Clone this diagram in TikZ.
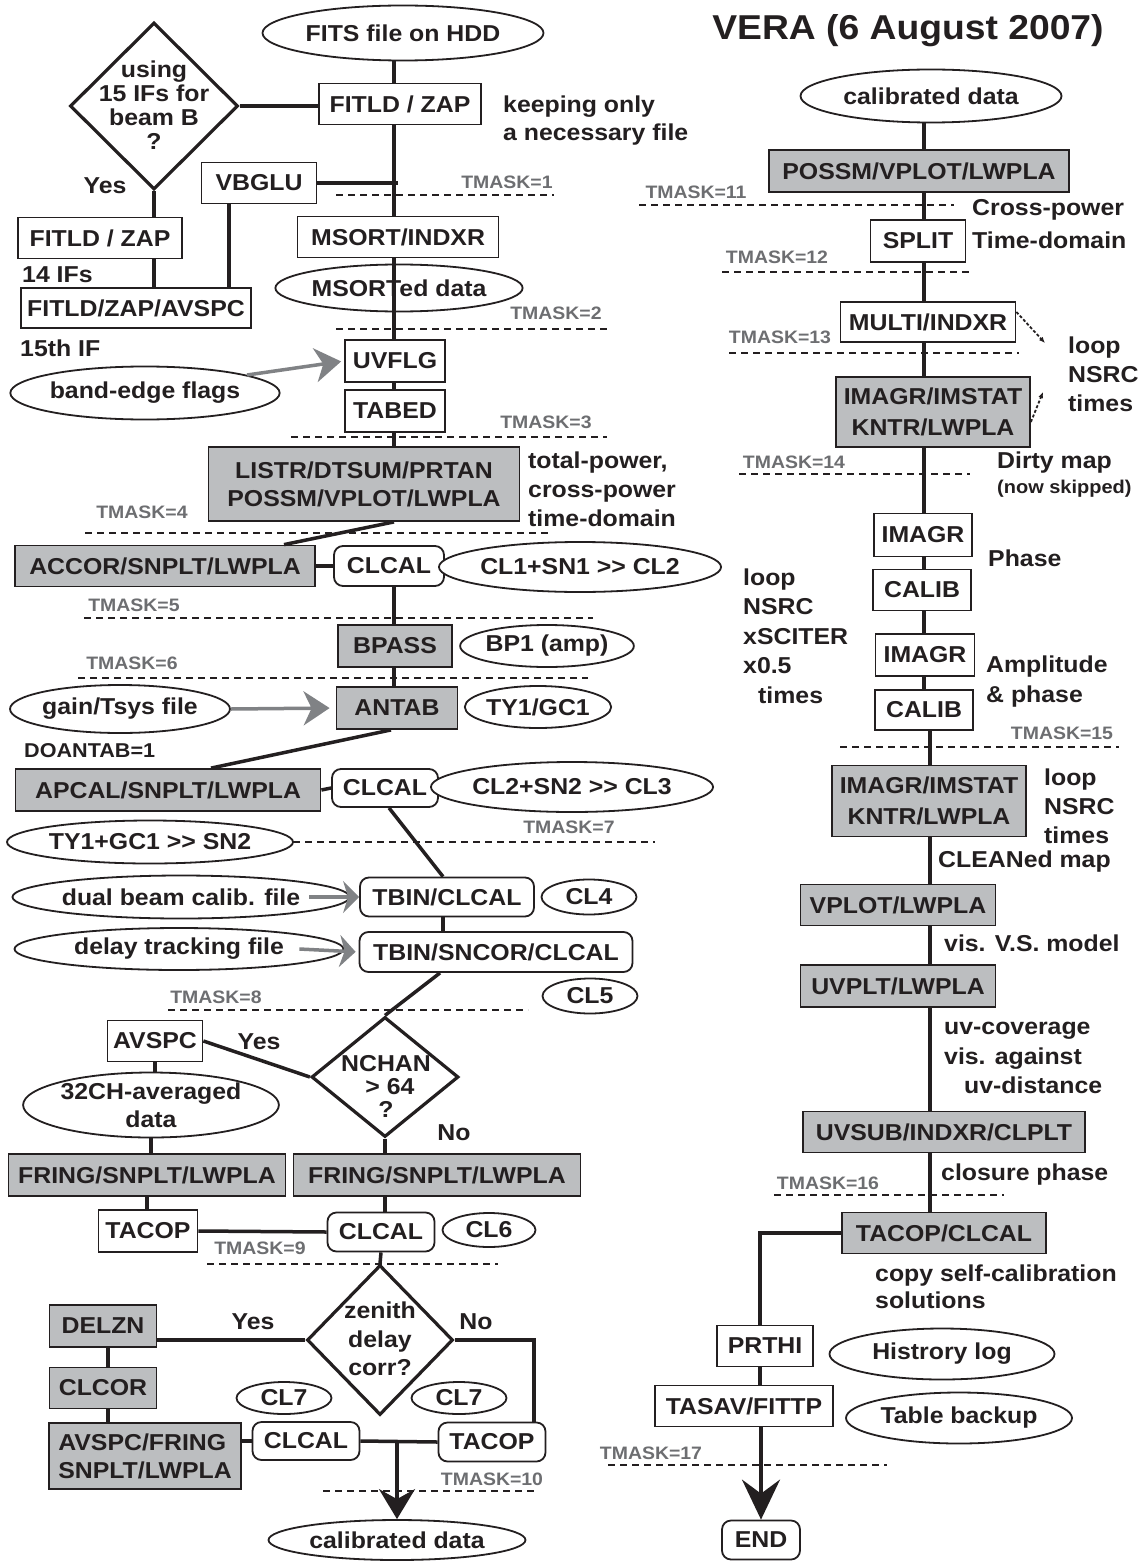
\documentclass[tikz,border=0pt]{standalone}
\usepackage{fontspec}
\setmainfont{Liberation Sans}[FakeStretch=1.08]
\usetikzlibrary{shapes.geometric,arrows.meta}
\definecolor{ink}{HTML}{231F20}
\definecolor{boxgray}{HTML}{BCBEC0}
\definecolor{tmgray}{HTML}{6D6E71}
\definecolor{argray}{HTML}{808285}
\newcommand\fmain{\fontsize{23}{28}\selectfont\bfseries}
\newcommand\fdiam{\fontsize{23}{24}\selectfont\bfseries}
\newcommand\ftm{\fontsize{18}{20}\selectfont\bfseries}
\newcommand\fsmall{\fontsize{18.5}{20}\selectfont\bfseries}
\newcommand\fdoantab{\fontsize{20}{22}\selectfont\bfseries}
\newcommand\ftitle{\fontsize{34.5}{38}\selectfont\bfseries}
\newcommand\dblgt{{>}{>}}
\begin{document}
\begin{tikzpicture}[x=1pt,y=-1pt,
  every node/.style={text=ink, font=\fmain},
  box/.style={draw=ink, line width=1.8, fill=white, inner sep=0, align=center},
  gbox/.style={box, fill=boxgray},
  rbox/.style={box, rounded corners=9},
  oval/.style={ellipse, draw=ink, line width=1.8, fill=white, inner sep=0, align=center},
  diam/.style={diamond, draw=ink, line width=3.2, fill=white, inner sep=0},
  conn/.style={draw=ink, line width=3.5},
  tmline/.style={draw=ink, line width=1.4, dash pattern=on 7pt off 5pt},
  tmtext/.style={text=tmgray, font=\ftm},
  note/.style={anchor=west, align=left, inner sep=0},
  garrow/.style={draw=argray, line width=3.5, -{Stealth[length=26pt, width=34pt, inset=8pt]}},
  garrowb/.style={draw=argray, line width=3.5, -{Stealth[length=16pt, width=32pt, inset=5pt]}},
  barrow/.style={conn, -{Stealth[length=30pt, width=36pt, inset=10pt]}},
  barrowb/.style={conn, -{Stealth[length=40pt, width=38pt, inset=14pt]}},
  darrow/.style={draw=ink, line width=1.8, dash pattern=on 3pt off 2pt, -{Latex[length=6pt, width=5pt]}},
]
\useasboundingbox (0,0) rectangle (1138,1562);
\fill[white] (0,0) rectangle (1138,1562);

% ---------------- left column: nodes ----------------
\node[oval, minimum width=281, minimum height=55] (fits) at (403,33) {FITS file on HDD};
\node[box, minimum width=162, minimum height=41] (fitld) at (400,104) {FITLD / ZAP};
\node[diam, minimum width=168, minimum height=167] (dq1) at (154,106) {};
\node[align=center, font=\fdiam, inner sep=0] (dq1t) at (154,105) {using\\15 IFs for\\beam B\\?};
\node[box, minimum width=115, minimum height=41] (vbglu) at (259,183) {VBGLU};
\node[box, minimum width=201, minimum height=41] (msort) at (398,237) {MSORT/INDXR};
\node[box, minimum width=164, minimum height=41] (fitldL) at (100,238) {FITLD / ZAP};
\node[box, minimum width=230, minimum height=40] (avspc0) at (136,308) {FITLD/ZAP/AVSPC};
\node[oval, minimum width=238, minimum height=47] (msorted) at (399,288) {MSORTed data};
\node[box, minimum width=100, minimum height=42] (uvflg) at (395,361) {UVFLG};
\node[oval, minimum width=255, minimum height=53] (band) at (145,393) {band-edge flags};
\node[box, minimum width=100, minimum height=42] (tabed) at (395,411) {TABED};
\node[gbox, minimum width=311, minimum height=74] (listr) at (364,484) {LISTR/DTSUM/PRTAN\\POSSM/VPLOT/LWPLA};
\node[gbox, minimum width=300, minimum height=41] (accor) at (165,566) {ACCOR/SNPLT/LWPLA};
\node[rbox, minimum width=110, minimum height=40] (clcal1) at (389,566) {CLCAL};
\node[oval, minimum width=256, minimum height=50] (cl1) at (580,567) {CL1+SN1 \dblgt{} CL2};
\node[gbox, minimum width=114, minimum height=42] (bpass) at (395,646) {BPASS};
\node[oval, minimum width=171, minimum height=42] (bp1) at (547,646) {BP1 (amp)};
\node[gbox, minimum width=121, minimum height=42] (antab) at (397,708) {ANTAB};
\node[oval, minimum width=138, minimum height=42] (ty1) at (538,707) {TY1/GC1};
\node[oval, minimum width=211, minimum height=48] (gain) at (120,709) {gain/Tsys file};
\node[gbox, minimum width=305, minimum height=42] (apcal) at (168,790) {APCAL/SNPLT/LWPLA};
\node[rbox, minimum width=106, minimum height=38] (clcal2) at (385,788) {CLCAL};
\node[oval, minimum width=259, minimum height=50] (cl2) at (572,787) {CL2+SN2 \dblgt{} CL3};
\node[oval, minimum width=255, minimum height=43] (tygc) at (150,842) {TY1+GC1 \dblgt{} SN2};
\node[oval, minimum width=329, minimum height=43] (dual) at (181,897) {dual beam calib. file};
\node[rbox, minimum width=174, minimum height=39] (tbin1) at (447,897) {TBIN/CLCAL};
\node[oval, minimum width=95, minimum height=35] (cl4) at (589,897) {CL4};
\node[oval, minimum width=329, minimum height=42] (delay) at (179,949) {delay tracking file};
\node[rbox, minimum width=273, minimum height=40] (tbin2) at (496,952) {TBIN/SNCOR/CLCAL};
\node[oval, minimum width=95, minimum height=35] (cl5) at (590,996) {CL5};
\node[box, minimum width=95, minimum height=41] (avspc1) at (155,1041) {AVSPC};
\node[diam, minimum width=147, minimum height=120] (nchan) at (385,1077) {};
\node[align=center, inner sep=0, font=\fontsize{23}{23}\selectfont\bfseries] (nchant) at (386,1086) {NCHAN\\\hspace*{8pt}> 64\\?};
\node[oval, minimum width=244, minimum height=65] (avg32) at (151,1105) {32CH-averaged\\data};
\node[gbox, minimum width=277, minimum height=42] (fring1) at (147,1175) {FRING/SNPLT/LWPLA};
\node[gbox, minimum width=287, minimum height=42] (fring2) at (437,1175) {FRING/SNPLT/LWPLA};
\node[box, minimum width=99, minimum height=42] (tacop1) at (148,1231) {TACOP};
\node[rbox, minimum width=107, minimum height=39] (clcal3) at (381,1232) {CLCAL};
\node[oval, minimum width=93, minimum height=34] (cl6) at (489,1230) {CL6};
\node[diam, minimum width=146, minimum height=150] (zenith) at (380,1340) {};
\node[align=center, inner sep=0, font=\fontsize{23}{28.5}\selectfont\bfseries] (zenitht) at (380,1339) {zenith\\delay\\corr?};
\node[gbox, minimum width=107, minimum height=42] (delzn) at (103,1326) {DELZN};
\node[gbox, minimum width=107, minimum height=41] (clcor) at (103,1388) {CLCOR};
\node[gbox, minimum width=192, minimum height=66, align=left] (avspc2) at (145,1456) {AVSPC/FRING\\SNPLT/LWPLA};
\node[oval, minimum width=95, minimum height=32] (cl7a) at (284,1398) {CL7};
\node[oval, minimum width=95, minimum height=32] (cl7b) at (459,1398) {CL7};
\node[rbox, minimum width=107, minimum height=38] (clcal4) at (306,1441) {CLCAL};
\node[rbox, minimum width=107, minimum height=39] (tacop2) at (492,1442) {TACOP};
\node[oval, minimum width=257, minimum height=40] (calib) at (397,1540) {calibrated data};

% ---------------- left column: connectors ----------------
\coordinate (sp) at (394,0);
\coordinate (vbx) at (229,0);
\draw[conn] (fits.south -| sp) -- (fitld.north -| sp);
\draw[conn] (fitld.south -| sp) -- (msort.north -| sp);
\draw[conn] (vbglu.east) -- ([xshift=4pt]vbglu.east -| sp);
\draw[conn] (msort.south -| sp) -- (msorted.south -| sp);
\draw[conn] (msorted.south -| sp) -- (uvflg.north -| sp);
\draw[conn] (uvflg.south -| sp) -- (tabed.north -| sp);
\draw[conn] (tabed.south -| sp) -- (listr.north -| sp);
\draw[conn] (dq1.east) -- (dq1.east -| fitld.west);
\draw[conn] (dq1.south) -- (dq1.south |- fitldL.north);
\draw[conn] (fitldL.south -| dq1) -- (avspc0.north -| dq1);
\draw[conn] (vbglu.south -| vbx) -- (avspc0.north -| vbx);
\draw[garrow, shorten >=3pt] (band.10) -- (uvflg.west);
\draw[conn] (listr.south -| sp) -- ([xshift=119pt]accor.north);
\draw[conn] (accor.east) -- (clcal1.west);
\draw[conn] (clcal1.south -| sp) -- (bpass.north -| sp);
\draw[conn] (bpass.south -| sp) -- (antab.north -| sp);
\draw[garrow, shorten >=6pt] (gain.east) -- (antab.west);
\draw[conn] ([xshift=-6pt]antab.south) -- ([xshift=43pt]apcal.north);
\draw[conn] (apcal.east) -- (clcal2.west);
\draw[conn] ([xshift=4pt]clcal2.south) -- ([xshift=-4pt]tbin1.north);
\draw[conn] ([xshift=-4pt]tbin1.south) -- ([xshift=-4pt]tbin1.south |- tbin2.north);
\draw[garrowb] ([xshift=-41pt]dual.east) -- (tbin1.west);
\draw[garrowb, shorten >=3pt] ([xshift=-45pt]delay.east) -- (tbin2.west);
\draw[conn] ([xshift=-56pt]tbin2.south) -- (nchan.north);
\draw[conn] (avspc1.east) -- (nchan.west);
\draw[conn] (avspc1.south) -- (avspc1.south |- avg32.north);
\draw[conn] (avg32.south) -- (avg32.south |- fring1.north);
\draw[conn] (fring1.south) -- (fring1.south |- tacop1.north);
\draw[conn] (nchan.south) -- (nchan.south |- fring2.north);
\draw[conn] (fring2.south -| nchan) -- (clcal3.north -| nchan);
\draw[conn] (tacop1.east) -- (clcal3.west);
\draw[conn] (clcal3.south) -- (zenith.north);
\draw[conn] (zenith.west -| delzn.east) -- (zenith.west);
\draw[conn] (zenith.east) -| ([xshift=42pt]tacop2.north);
\draw[conn] ([xshift=5pt]delzn.south) -- ([xshift=5pt]clcor.north);
\draw[conn] ([xshift=5pt]clcor.south) -- ([xshift=5pt]clcor.south |- avspc2.north);
\draw[conn] (clcal4.west -| avspc2.east) -- (clcal4.west);
\draw[conn] (clcal4.east) -- (tacop2.west);
\draw[barrow] (calib.north |- clcal4.east) -- (calib.north);

% ---------------- left column: notes and mask levels ----------------
\node[note] (keep) at (503,121) {keeping only\\a necessary file};
\node (yes1) at (105,186) {Yes};
\node[note] (if14) at (22,275) {14 IFs};
\node[note] (if15) at (20,348) {15th IF};
\node[note, font=\fontsize{23}{29}\selectfont\bfseries] (tpow) at (528,489) {total-power,\\cross-power\\time-domain};
\node[note, font=\fdoantab] (doantab) at (24,751) {DOANTAB=1};
\node (yes2) at (259,1042) {Yes};
\node (no1) at (454,1133) {No};
\node (yes3) at (253,1322) {Yes};
\node (no2) at (476,1322) {No};

\node[tmtext] (tm1) at (507,182) {TMASK=1};
\draw[tmline] (336,195) -- (554,195);
\node[tmtext] (tm2) at (556,313) {TMASK=2};
\draw[tmline] (336,329) -- (610,329);
\node[tmtext] (tm3) at (546,422) {TMASK=3};
\draw[tmline] (291,437) -- (607,437);
\node[tmtext] (tm4) at (142,512) {TMASK=4};
\draw[tmline] (85,533) -- (549,533);
\node[tmtext] (tm5) at (134,605) {TMASK=5};
\draw[tmline] (84,618) -- (593,618);
\node[tmtext] (tm6) at (132,663) {TMASK=6};
\draw[tmline] (78,678) -- (588,678);
\node[tmtext] (tm7) at (569,827) {TMASK=7};
\draw[tmline] (293,842) -- (655,842);
\node[tmtext] (tm8) at (216,997) {TMASK=8};
\draw[tmline] (168,1010) -- (528,1010);
\node[tmtext] (tm9) at (260,1248) {TMASK=9};
\draw[tmline] (207,1264) -- (498,1264);
\node[tmtext] (tm10) at (492,1479) {TMASK=10};
\draw[tmline] (323,1491) -- (534,1491);

% ---------------- right column: nodes ----------------
\node[font=\ftitle, inner sep=0] (title) at (908,31) {VERA (6 August 2007)};
\node[oval, minimum width=261, minimum height=53] (cal2) at (931,96) {calibrated data};
\node[gbox, minimum width=300, minimum height=42] (possm) at (919,171) {POSSM/VPLOT/LWPLA};
\node[box, minimum width=95, minimum height=42] (split) at (918,241) {SPLIT};
\node[box, minimum width=175, minimum height=40] (multi) at (928,322) {MULTI/INDXR};
\node[gbox, minimum width=194, minimum height=70, font=\fontsize{23}{31}\selectfont\bfseries] (imst1) at (933,412) {IMAGR/IMSTAT\\KNTR/LWPLA};
\node[box, minimum width=98, minimum height=43] (imgA) at (923,535) {IMAGR};
\node[box, minimum width=98, minimum height=41] (calA) at (922,590) {CALIB};
\node[box, minimum width=99, minimum height=42] (imgB) at (925,655) {IMAGR};
\node[box, minimum width=98, minimum height=40] (calB) at (924,710) {CALIB};
\node[gbox, minimum width=194, minimum height=71, font=\fontsize{23}{31}\selectfont\bfseries] (imst2) at (929,801) {IMAGR/IMSTAT\\KNTR/LWPLA};
\node[gbox, minimum width=195, minimum height=41] (vplot) at (898,905) {VPLOT/LWPLA};
\node[gbox, minimum width=195, minimum height=42] (uvplt) at (898,986) {UVPLT/LWPLA};
\node[gbox, minimum width=282, minimum height=41] (uvsub) at (944,1132) {UVSUB/INDXR/CLPLT};
\node[gbox, minimum width=204, minimum height=41] (tacl) at (944,1233) {TACOP/CLCAL};
\node[box, minimum width=96, minimum height=41] (prthi) at (765,1346) {PRTHI};
\node[oval, minimum width=225, minimum height=51] (hist) at (942,1354) {Histrory log};
\node[box, minimum width=178, minimum height=41] (tasav) at (744,1406) {TASAV/FITTP};
\node[oval, minimum width=226, minimum height=51] (tabbk) at (959,1418) {Table backup};
\node[rbox, minimum width=78, minimum height=39] (endn) at (761,1540) {END};

% ---------------- right column: connectors ----------------
\coordinate (rs) at (924,0);
\coordinate (rt) at (930,0);
\draw[conn] (cal2.south -| rs) -- (possm.north -| rs);
\draw[conn] (possm.south -| rs) -- (split.north -| rs);
\draw[conn] (split.south -| rs) -- (multi.north -| rs);
\draw[conn] (multi.south -| rs) -- (imst1.north -| rs);
\draw[conn] (imst1.south -| rs) -- (imgA.north -| rs);
\draw[conn] (imgA.south -| rs) -- (calA.north -| rs);
\draw[conn] (calA.south -| rs) -- (imgB.north -| rs);
\draw[conn] (imgB.south -| rs) -- (calB.north -| rs);
\draw[conn] (calB.south -| rt) -- (imst2.north -| rt);
\draw[conn] (imst2.south -| rt) -- (vplot.north -| rt);
\draw[conn] (vplot.south -| rt) -- (uvplt.north -| rt);
\draw[conn] (uvplt.south -| rt) -- (uvsub.north -| rt);
\draw[conn] (uvsub.south -| rt) -- (tacl.north -| rt);
\draw[conn] (tacl.west) -| ([xshift=-5pt]prthi.north);
\draw[conn] ([xshift=-5pt]prthi.south) -- ([xshift=-5pt]prthi.south |- tasav.north);
\draw[barrowb] (tasav.south -| endn) -- (endn.north);
\coordinate (la1) at (1045,343);
\coordinate (la2) at (1043,392);
\draw[darrow] ([yshift=10pt]multi.east) -- (la1);
\draw[darrow] ([yshift=-10pt]imst1.east) -- (la2);

% ---------------- right column: notes and mask levels ----------------
\node[note, font=\fontsize{23}{33}\selectfont\bfseries] (cpow) at (972,224) {Cross-power\\Time-domain};
\node[note, font=\fontsize{23}{29}\selectfont\bfseries] (loop1) at (1068,374) {loop\\NSRC\\times};
\node[note] (dirty) at (997,463) {Dirty map};
\node[note, font=\fsmall] (skip) at (997,489) {(now skipped)};
\node[note] (phase) at (988,558) {Phase};
\node[note, font=\fontsize{23}{29.5}\selectfont\bfseries] (loop2) at (743,636) {loop\\NSRC\\xSCITER\\x0.5\\\hspace*{15pt}times};
\node[note, font=\fontsize{23}{30}\selectfont\bfseries] (amp) at (986,682) {Amplitude\\\& phase};
\node[note, font=\fontsize{23}{29}\selectfont\bfseries] (loop3) at (1044,806) {loop\\NSRC\\times};
\node[note] (clean) at (938,862) {CLEANed map};
\node[note] (vsmod) at (944,943) {vis. V.S. model};
\node[note, font=\fontsize{23}{29.5}\selectfont\bfseries] (uvcov) at (944,1058) {uv-coverage\\vis. against\\\hspace*{20pt}uv-distance};
\node[note] (clos) at (941,1175) {closure phase};
\node[note, font=\fontsize{23}{27}\selectfont\bfseries] (copy) at (875,1287) {copy self-calibration\\solutions};

\node[tmtext] (tm11) at (696,192) {TMASK=11};
\draw[tmline] (639,205) -- (954,205);
\node[tmtext] (tm12) at (777,257) {TMASK=12};
\draw[tmline] (722,272) -- (972,272);
\node[tmtext] (tm13) at (780,337) {TMASK=13};
\draw[tmline] (729,353) -- (1019,353);
\node[tmtext] (tm14) at (794,462) {TMASK=14};
\draw[tmline] (739,474) -- (970,474);
\node[tmtext] (tm15) at (1062,733) {TMASK=15};
\draw[tmline] (840,747) -- (1119,747);
\node[tmtext] (tm16) at (828,1183) {TMASK=16};
\draw[tmline] (774,1195) -- (1004,1195);
\node[tmtext] (tm17) at (651,1453) {TMASK=17};
\draw[tmline] (608,1465) -- (887,1465);
\end{tikzpicture}
\end{document}
